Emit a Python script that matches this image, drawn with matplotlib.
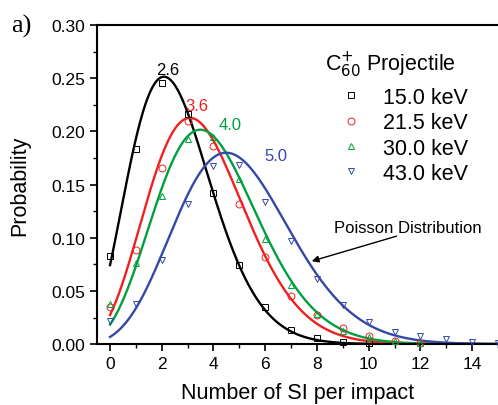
import math
import numpy as np
import matplotlib
matplotlib.use("Agg")
import matplotlib.pyplot as plt
from matplotlib.lines import Line2D

plt.rcParams['font.family'] = ['Liberation Sans', 'DejaVu Sans']

n_si = list(range(0, 16))
p_15 = [0.083, 0.183, 0.245, 0.216, 0.142, 0.074, 0.035, 0.0135, 0.006, 0.002, 0.001]
p_21 = [0.0345, 0.088, 0.166, 0.210, 0.186, 0.132, 0.0815, 0.045, 0.027, 0.015, 0.008, 0.003, 0.001]
p_30 = [0.038, 0.076, 0.139, 0.193, 0.195, 0.155, 0.099, 0.0555, 0.028, 0.0125, 0.0065, 0.003, 0.001]
p_43 = [0.022, 0.038, 0.079, 0.132, 0.167, 0.168, 0.134, 0.097, 0.061, 0.037, 0.021, 0.0116, 0.0078, 0.0047, 0.002, 0.001]

energies = ["15.0 keV", "21.5 keV", "30.0 keV", "43.0 keV"]
means = [2.6, 3.6, 4.0, 5.0]
colors = ["black", "#f02020", "#00a040", "#3548a8"]
markers = ["s", "o", "^", "v"]
series = [p_15, p_21, p_30, p_43]

# mean labels placed next to the peaks
label_xy = [(2.24, 0.258), (3.36, 0.224), (4.63, 0.206), (6.4, 0.177)]


def poisson(x, lam):
    return np.array([math.exp(k * math.log(lam) - lam - math.lgamma(k + 1)) for k in x])


fig = plt.figure(figsize=(4.98, 4.06), dpi=100)
ax = fig.add_axes([0.195, 0.150, 0.805, 0.786])

xs = np.linspace(0, 15, 400)
handles = []
for p, lam, c, m, lab in zip(series, means, colors, markers, energies):
    ax.plot(xs, poisson(xs, lam), color=c, lw=1.7, zorder=2)
    ax.plot(n_si[:len(p)], p, ls='none', marker=m, ms=5, mfc='none',
            mec=c, mew=0.7, zorder=3, clip_on=False)
    handles.append(Line2D([], [], ls='none', marker=m, ms=5, mfc='none', mec=c, mew=0.7, label=lab))

for (tx, ty), lam, c in zip(label_xy, means, colors):
    ax.text(tx, ty, f"{lam:.1f}", color=c, fontsize=12, ha='center', va='center')

ax.set_xlim(-0.5, 15)
ax.set_ylim(0, 0.30)
ax.set_xticks(range(0, 15, 2))
ax.set_xticks(range(1, 16, 2), minor=True)
ax.set_yticks(np.arange(0, 0.301, 0.05))
ax.set_yticks(np.arange(0.025, 0.3, 0.05), minor=True)
ax.yaxis.set_major_formatter(matplotlib.ticker.FormatStrFormatter('%.2f'))
ax.tick_params(which='major', direction='out', length=5, width=1.2, labelsize=12.5)
ax.tick_params(which='minor', direction='out', length=3, width=1.0)
ax.spines['right'].set_visible(False)
for s in ['left', 'bottom', 'top']:
    ax.spines[s].set_linewidth(1.5)

ax.set_xlabel("Number of SI per impact", fontsize=15.5, labelpad=8)
ax.set_ylabel("Probability", fontsize=15.5, labelpad=15)

# legend title drawn as its own text, entries as a frameless legend
fig.text(390 / 498, 1 - 65 / 406, "C$_{60}^{+}$ Projectile", fontsize=15.5,
         ha='center', va='center')
leg = ax.legend(handles=handles, frameon=False, fontsize=15.5, loc='upper left',
                bbox_to_anchor=(340 / 498, 1 - 88 / 406), bbox_transform=fig.transFigure,
                handlelength=1.0, handletextpad=1.0, labelspacing=0.2,
                borderaxespad=0, borderpad=0)

ax.text(11.5, 0.110, "Poisson Distribution", fontsize=12, ha='center', va='center')
ax.annotate("", xy=(7.8, 0.078), xytext=(11.08, 0.1015),
            arrowprops=dict(arrowstyle='-|>', color='black', lw=1.0,
                            shrinkA=0, shrinkB=0, mutation_scale=10))

fig.text(0.042, 0.935, "a)", fontsize=19, family='Liberation Serif', ha='center', va='center')

fig.savefig("out.png", dpi=100)
